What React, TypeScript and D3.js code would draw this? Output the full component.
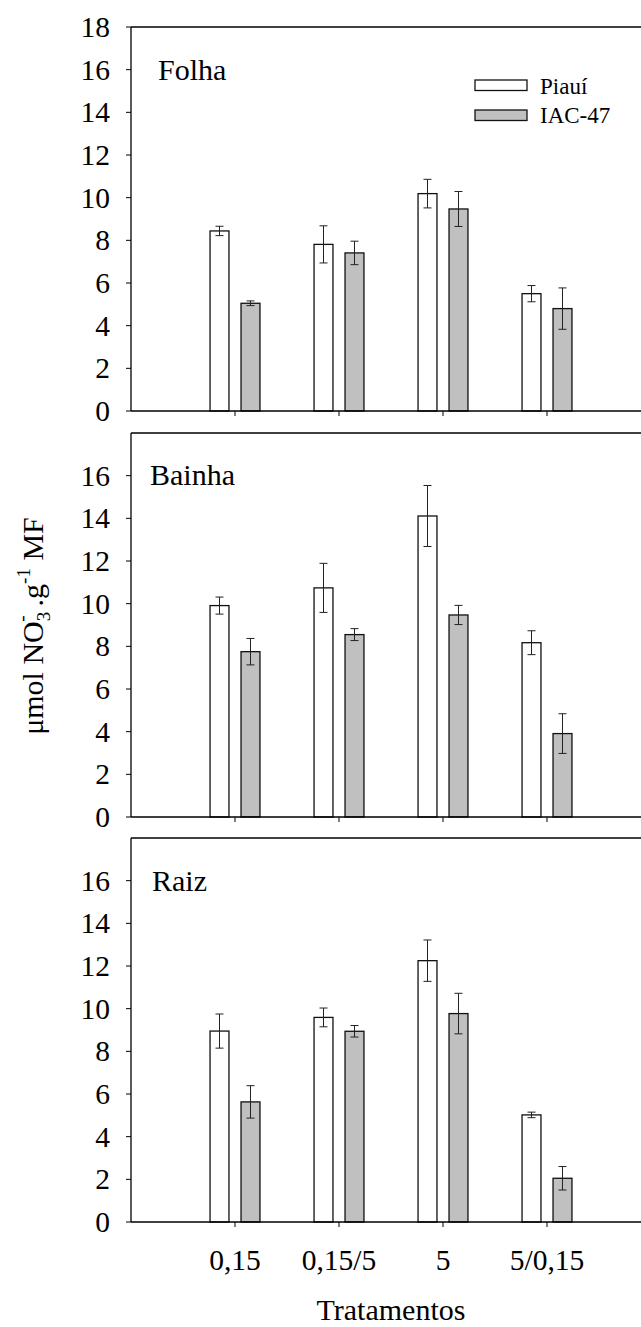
import React from 'react';
import * as d3 from 'd3';

const categories = ['0,15', '0,15/5', '5', '5/0,15'];
const seriesNames = ['Piauí', 'IAC-47'];
const yTicksTop = [0, 2, 4, 6, 8, 10, 12, 14, 16, 18];
const yTicksOther = [0, 2, 4, 6, 8, 10, 12, 14, 16];

const folhaPiaui = [8.44, 7.81, 10.19, 5.5];
const folhaPiauiErr = [0.22, 0.87, 0.67, 0.38];
const folhaIac = [5.05, 7.41, 9.47, 4.8];
const folhaIacErr = [0.11, 0.55, 0.82, 0.97];

const bainhaPiaui = [9.91, 10.74, 14.11, 8.17];
const bainhaPiauiErr = [0.4, 1.15, 1.43, 0.56];
const bainhaIac = [7.75, 8.55, 9.47, 3.91];
const bainhaIacErr = [0.62, 0.28, 0.45, 0.93];

const raizPiaui = [8.95, 9.59, 12.25, 5.02];
const raizPiauiErr = [0.8, 0.44, 0.97, 0.13];
const raizIac = [5.63, 8.94, 9.77, 2.05];
const raizIacErr = [0.76, 0.27, 0.95, 0.55];

const W = 641;
const H = 1327;
const FONT = '"Liberation Serif", "Times New Roman", serif';
const fills = ['#ffffff', '#c0c0c0'];

const panels = [
  { name: 'Folha', top: 27, ticks: yTicksTop, labelX: 158, labelDy: 53, series: [[folhaPiaui, folhaPiauiErr], [folhaIac, folhaIacErr]] },
  { name: 'Bainha', top: 433, ticks: yTicksOther, labelX: 150, labelDy: 52, series: [[bainhaPiaui, bainhaPiauiErr], [bainhaIac, bainhaIacErr]] },
  { name: 'Raiz', top: 838, ticks: yTicksOther, labelX: 152, labelDy: 53, series: [[raizPiaui, raizPiauiErr], [raizIac, raizIacErr]] },
];

const x = d3.scaleLinear().domain([0, 5]).range([131, 651]);
// bar edges relative to category centre
const barOffsets = [[-0.24, -0.058], [0.058, 0.24]];

function Panel({ p, last }: any) {
  const y = d3.scaleLinear().domain([0, 18]).range([p.top + 384, p.top]);
  const y0 = y(0);
  return (
    <g>
      {p.series.map(([vals, errs]: any, s: number) =>
        vals.map((v: number, i: number) => {
          const c = i + 1;
          const x0 = x(c + barOffsets[s][0]);
          const x1 = x(c + barOffsets[s][1]);
          const cx = (x0 + x1) / 2;
          return (
            <g key={`${s}-${i}`}>
              <rect x={x0} y={y(v)} width={x1 - x0} height={y0 - y(v)} fill={fills[s]} stroke="#111" strokeWidth={1.3} />
              <line x1={cx} x2={cx} y1={y(v + errs[i])} y2={y(v - errs[i])} stroke="#222" strokeWidth={1} />
              <line x1={cx - 4} x2={cx + 4} y1={y(v + errs[i])} y2={y(v + errs[i])} stroke="#222" strokeWidth={1} />
              <line x1={cx - 4} x2={cx + 4} y1={y(v - errs[i])} y2={y(v - errs[i])} stroke="#222" strokeWidth={1} />
            </g>
          );
        })
      )}
      {/* frame */}
      <line x1={x(0)} x2={W} y1={p.top} y2={p.top} stroke="#000" strokeWidth={1.3} />
      <line x1={x(0)} x2={x(0)} y1={p.top} y2={y0} stroke="#000" strokeWidth={1.3} />
      <line x1={x(0)} x2={W} y1={y0} y2={y0} stroke="#000" strokeWidth={1.3} />
      {p.ticks.map((t: number) => (
        <g key={t}>
          <line x1={x(0) - 5} x2={x(0)} y1={y(t)} y2={y(t)} stroke="#000" strokeWidth={1} />
          <text x={110} y={y(t) + 10} textAnchor="end" fontSize={29.5} fontFamily={FONT} fill="#000">{t}</text>
        </g>
      ))}
      {categories.map((c, i) => (
        <line key={c} x1={x(i + 1)} x2={x(i + 1)} y1={y0} y2={y0 + 5} stroke="#000" strokeWidth={1} />
      ))}
      {last && categories.map((c, i) => (
        <text key={c} x={x(i + 1)} y={y0 + 48} textAnchor="middle" fontSize={29.5} fontFamily={FONT} fill="#000">{c}</text>
      ))}
      <text x={p.labelX} y={p.top + p.labelDy} fontSize={30} fontFamily={FONT} fill="#000">{p.name}</text>
    </g>
  );
}

export default function App() {
  return (
    <svg width={W} height={H} style={{ position: 'absolute', left: 0, top: 0, background: '#fff' }}>
      <rect width={W} height={H} fill="#fff" />
      {panels.map((p, i) => <Panel key={p.name} p={p} last={i === panels.length - 1} />)}
      {/* legend */}
      {seriesNames.map((n, i) => (
        <g key={n}>
          <rect x={475} y={80 + i * 30} width={52} height={10.5} fill={fills[i]} stroke="#111" strokeWidth={1.3} />
          <text x={540} y={94 + i * 29} fontSize={23} fontFamily={FONT} fill="#000">{n}</text>
        </g>
      ))}
      {/* y axis title */}
      <text transform="translate(43,626) rotate(-90)" textAnchor="middle" fontSize={30} fontFamily={FONT} fill="#000">
        μmol NO<tspan fontSize={19} dy={7}>3</tspan><tspan fontSize={19} dx={-10} dy={-22}>-</tspan><tspan dx={9} dy={15}>.g</tspan><tspan fontSize={19} dy={-13}>-1</tspan><tspan dy={13}> MF</tspan>
      </text>
      <text x={391} y={1320} textAnchor="middle" fontSize={30} fontFamily={FONT} fill="#000">Tratamentos</text>
    </svg>
  );
}
